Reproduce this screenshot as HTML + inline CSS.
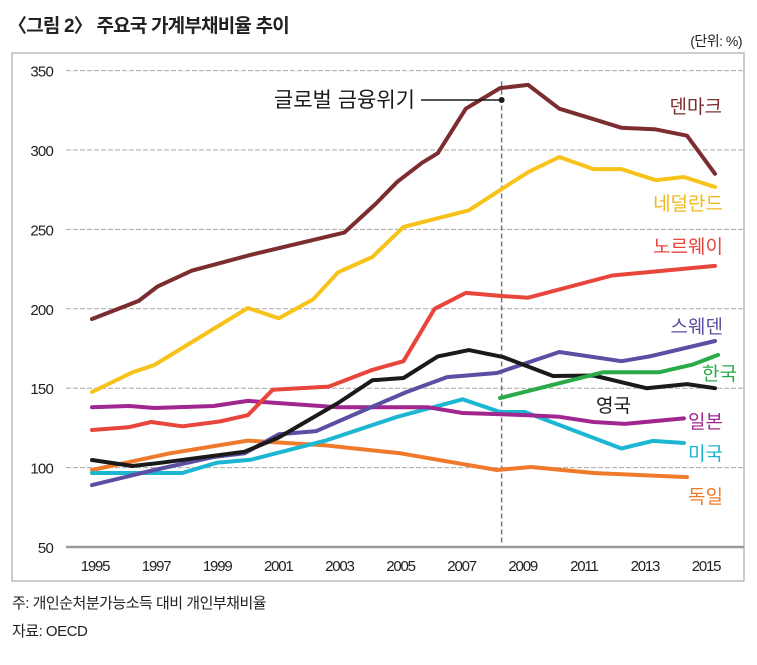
<!DOCTYPE html>
<html><head><meta charset="utf-8">
<style>
body{margin:0;background:#fff;width:757px;height:660px;overflow:hidden;font-family:"Liberation Sans","Noto Sans CJK KR",sans-serif;}
svg text{font-family:"Liberation Sans","Noto Sans CJK KR",sans-serif;}
</style></head>
<body>
<svg id="chart" width="757" height="660">
<text x="8" y="32" font-size="19" font-weight="bold" letter-spacing="-0.8" fill="#222">〈그림 2〉 주요국 가계부채비율 추이</text>
<text x="742" y="46" font-size="14" fill="#222" text-anchor="end" letter-spacing="-0.5">(단위: %)</text>
<rect x="12" y="53" width="732" height="528" fill="none" stroke="#aaa" stroke-width="1.2"/>
<g id="grid"></g>
<g id="series"></g>
<g id="labels"></g>
<text x="12" y="608" font-size="15" fill="#222" letter-spacing="-0.5">주: 개인순처분가능소득 대비 개인부채비율</text>
<text x="12" y="636" font-size="15" fill="#222" letter-spacing="-0.5">자료: OECD</text>
</svg>
<script>
const yTicks=[50,100,150,200,250,300,350];
const xTickYears=[1995,1997,1999,2001,2003,2005,2007,2009,2011,2013,2015];
const crisisYear=2008.15;
const dkYears=[1995,1996.5,1997.1,1998.2,2000.1,2003.1,2004.1,2004.8,2005.6,2006.1,2007,2008.1,2009,2010,2011,2012,2013.1,2014.1,2015];
const dkVals=[193.6,205,214,224,234,248,266,280,292,298,326,339,341,326,320,314,313,309,285];
const nlYears=[1995,1996.3,1997,2000,2001,2002.1,2002.9,2004,2005,2007.1,2008.2,2009,2010,2011.1,2012,2013.1,2014,2015];
const nlVals=[147.6,160,164.6,200.5,194,206,223,232.6,251.5,262,276,286,295.6,288,288,281,283,276.7];
const noYears=[1995,1996.2,1996.9,1997.9,1999.1,2000,2000.8,2002.6,2004,2005,2006,2007,2008.2,2009,2011.7,2015];
const noVals=[123.7,125.5,128.7,126,129,133,149,151,161.5,167,200,210,208,207,221,227];
const ukYears=[1995,1996.3,1997.2,1999.9,2001,2002.9,2004,2005,2006.1,2007.1,2008.2,2009.8,2011.1,2012.8,2014.1,2015];
const ukVals=[104.8,101,103,110,119,140.7,155,156.4,170,174,169.6,157.7,158,150,152.6,150];
const seYears=[1995,1997,1998.9,1999.9,2001,2002.2,2003.9,2005.1,2006.4,2008,2010,2012,2012.9,2015];
const seVals=[89,98.5,106.7,109,121,123,137.5,147.6,157,159.6,172.8,167,170,179.7];
const jpYears=[1995,1996.2,1997,1998.9,2000,2002.9,2005.8,2006.9,2009,2010,2011.1,2012.1,2014];
const jpVals=[138,138.8,137.5,138.8,142,138,138,134.4,133,132,128.7,127.5,131];
const usYears=[1995,1997.9,1999,2000.1,2002.5,2004.8,2006.9,2008.1,2008.9,2012,2013,2014];
const usVals=[96.6,96.6,103,105,117,132,143,135,135,112,116.8,115.5];
const deYears=[1995,1997.5,2000,2002.5,2004.9,2008,2009.1,2011.1,2014.1];
const deVals=[98.5,109,117,114,109,98.5,100.4,96.6,94];
const krYears=[2008.1,2011.4,2013.2,2014.3,2015.1];
const krVals=[143.8,160,160,165,171];

const NS='http://www.w3.org/2000/svg';
function yS(v){return 547-(v-50)*1.588;}
function xS(yr){return 92+(yr-1995)*31.15;}
function xL(yr){return 95+(yr-1995)*30.55;}
function mk(tag,attrs,parent){const e=document.createElementNS(NS,tag);for(const k in attrs)e.setAttribute(k,attrs[k]);parent.appendChild(e);return e;}
const grid=document.getElementById('grid');
yTicks.forEach(v=>{
  if(v>50){
    const l=mk('line',{x1:66,x2:744,y1:yS(v),y2:yS(v),stroke:'#aaa','stroke-width':1,'stroke-dasharray':'5,2'},grid);
    
    
  }
  const t=mk('text',{x:53,y:yS(v)+6,'font-size':15,'text-anchor':'end',fill:'#222','letter-spacing':'-0.8'},grid);
  t.textContent=v;
  
  
});
const ax=mk('line',{x1:66,x2:744,y1:yS(50),y2:yS(50),stroke:'#999','stroke-width':2.5},grid);


xTickYears.forEach(y=>{
  const t=mk('text',{x:xL(y),y:571,'font-size':15,'text-anchor':'middle',fill:'#222','letter-spacing':'-1.2'},grid);
  t.textContent=y;
  
  
});
const cl=mk('line',{x1:xS(crisisYear),x2:xS(crisisYear),y1:yS(340)-5,y2:yS(50)-3,stroke:'#777','stroke-width':1.5,'stroke-dasharray':'5,3'},grid);



const ser=document.getElementById('series');
const defs=[
 ['germany',deYears,deVals,'#ef7a2b'],
 ['usa',usYears,usVals,'#1cb6d2'],
 ['japan',jpYears,jpVals,'#a0278f'],
 ['sweden',seYears,seVals,'#5a4fa3'],
 ['uk',ukYears,ukVals,'#1a1a1a'],
 ['korea',krYears,krVals,'#2bab47'],
 ['norway',noYears,noVals,'#e8453b'],
 ['netherlands',nlYears,nlVals,'#f7c31b'],
 ['denmark',dkYears,dkVals,'#7b2d30']
];
defs.forEach(d=>{
  const pts=d[1].map((yr,i)=>xS(yr).toFixed(1)+','+yS(d[2][i]).toFixed(1)).join(' ');
  const p=mk('polyline',{points:pts,fill:'none',stroke:d[3],'stroke-width':4,'stroke-linejoin':'round','stroke-linecap':'round'},ser);
  
  
});
const lab=document.getElementById('labels');
const L=[['덴마크',722,113,'#7b2d30','denmark'],['네덜란드',723,210,'#f0b81a','netherlands'],['노르웨이',723,253,'#e8453b','norway'],['스웨덴',723,333,'#5a4fa3','sweden'],['한국',737,380,'#2bab47','korea'],['영국',631,412,'#1a1a1a','uk'],['일본',723,428,'#a0278f','japan'],['미국',723,460,'#1cb6d2','usa'],['독일',723,503,'#ef7a2b','germany']];
L.forEach(l=>{
  const t=mk('text',{x:l[1],y:l[2],'font-size':19,'text-anchor':'end',fill:l[3]},lab);
  t.textContent=l[0];
  
  
});
const at=mk('text',{x:415,y:107,'font-size':21,'text-anchor':'end',fill:'#1a1a1a'},lab);
at.textContent='글로벌 금융위기';


const al=mk('line',{x1:421,x2:xS(crisisYear),y1:100,y2:100,stroke:'#1a1a1a','stroke-width':1.5},lab);


const ad=mk('circle',{cx:xS(crisisYear),cy:100,r:3,fill:'#1a1a1a'},lab);


</script>
</body></html>
